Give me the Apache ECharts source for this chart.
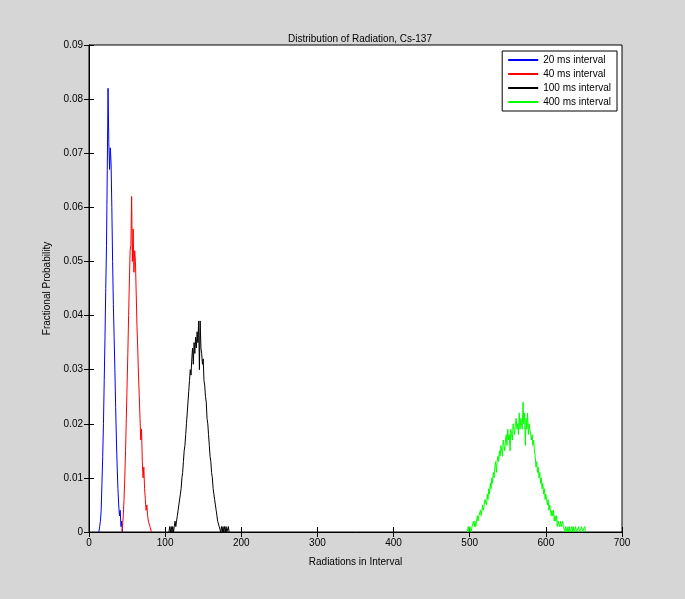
<!DOCTYPE html>
<html><head><meta charset="utf-8">
<script src="https://cdn.jsdelivr.net/npm/echarts@6/dist/echarts.min.js"></script>
<style>html,body{margin:0;padding:0;background:#d6d6d6}#c{width:685px;height:599px}</style>
</head><body><div id="c"></div>
<script>
// counts start at these x values, one value per integer step
const blueStart = 13;
const blue = [0,0.001,0.002,0.004,0.009,0.014,0.02,0.028,0.036,0.045,0.053,0.067,0.082,0.072,0.067,0.071,0.068,0.06,0.05,0.042,0.036,0.03,0.023,0.017,0.012,0.008,0.005,0.003,0.004,0.001,0.002,0];
const redStart = 43;
const red = [0,0.001,0.003,0.006,0.01,0.015,0.021,0.027,0.033,0.04,0.046,0.052,0.053,0.062,0.05,0.056,0.048,0.052,0.05,0.044,0.038,0.034,0.029,0.025,0.021,0.017,0.019,0.013,0.01,0.012,0.008,0.006,0.004,0.005,0.003,0.002,0.002,0.001,0.001,0];
const blackStart = 105;
const black = [0,0.001,0,0.001,0,0.001,0,0.001,0.002,0.001,0.002,0.003,0.004,0.005,0.005,0.007,0.008,0.010,0.011,0.013,0.015,0.016,0.018,0.020,0.022,0.024,0.026,0.028,0.030,0.029,0.032,0.034,0.031,0.035,0.033,0.036,0.034,0.037,0.035,0.039,0.030,0.039,0.034,0.033,0.031,0.032,0.028,0.027,0.025,0.024,0.021,0.020,0.018,0.016,0.014,0.013,0.011,0.010,0.008,0.007,0.006,0.005,0.004,0.003,0.002,0.002,0.001,0.001,0,0.001,0,0.001,0,0.001,0,0.001,0,0,0.001,0];
const greenStart = 497;
const green = [0,0.001,0,0.001,0.001,0,0.001,0.001,0.002,0.001,0.002,0.001,0.002,0.003,0.002,0.003,0.003,0.004,0.003,0.004,0.005,0.004,0.005,0.006,
0.006,0.005,0.007,0.006,0.008,0.007,0.009,0.008,0.010,0.009,0.011,0.010,0.012,0.013,0.011,0.013,0.014,0.013,0.015,0.014,
0.016,0.015,0.014,0.017,0.016,0.015,0.017,0.018,0.016,0.019,0.017,0.018,0.015,0.019,0.018,0.017,0.020,0.019,0.018,0.020,
0.021,0.019,0.020,0.018,0.022,0.019,0.021,0.020,0.019,0.024,0.020,0.022,0.016,0.021,0.019,0.022,0.018,0.020,0.019,0.018,
0.017,0.018,0.016,0.017,0.015,0.014,0.012,0.013,0.011,0.012,0.010,0.011,0.009,0.010,0.008,0.009,0.007,0.008,0.006,0.007,
0.006,0.005,0.006,0.004,0.005,0.004,0.003,0.004,0.003,0.004,0.002,0.003,0.002,0.003,0.001,0.002,0.002,0.001,0.002,0.001,
0.001,0.002,0.001,0.001,0,0.001,0.001,0,0.001,0,0.001,0,0,0.001,0,0.001,0,0,0.001,0,0,0,0.001,0,0,0,0.001,0,0,0,0.001,0];
const names = ['20 ms interval','40 ms interval','100 ms interval','400 ms interval'];
const colors = ['#0000ff','#ff0000','#000000','#00ff00'];

const pairs = (start, arr) => arr.map((v, i) => [start + i, v]);
const sets = [pairs(blueStart, blue), pairs(redStart, red), pairs(blackStart, black), pairs(greenStart, green)];

const font = 'Liberation Sans';
const chart = echarts.init(document.getElementById('c'));
const axisCommon = {
  axisLine: { lineStyle: { color: '#000' } },
  axisTick: { inside: true, length: 5, lineStyle: { color: '#000' } },
  splitLine: { show: false }
};
chart.setOption({
  backgroundColor: '#d6d6d6',
  animation: false,
  textStyle: { fontFamily: font },
  title: { text: 'Distribution of Radiation, Cs-137', left: 355, top: 29, textAlign: 'center',
    textStyle: { fontSize: 10, fontWeight: 'normal', color: '#000', fontFamily: font } },
  grid: { left: 89, right: 63, top: 45, bottom: 67, show: true, backgroundColor: '#fff', borderColor: '#000', borderWidth: 1 },
  legend: {
    right: 68, top: 51, orient: 'vertical', itemWidth: 30, itemHeight: 2, itemGap: 4,
    backgroundColor: '#fff', borderColor: '#000', borderWidth: 1, padding: [4, 6, 4, 6],
    textStyle: { fontSize: 10, color: '#000', fontFamily: font },
    icon: 'rect', data: names
  },
  xAxis: [
    Object.assign({ type: 'value', min: 0, max: 700, interval: 100, position: 'bottom',
      name: 'Radiations in Interval', nameLocation: 'middle', nameGap: 25,
      nameTextStyle: { fontSize: 10, color: '#000' },
      axisLabel: { fontSize: 10, color: '#000', margin: 6 } }, axisCommon),
    Object.assign({ type: 'value', min: 0, max: 700, interval: 100, position: 'top', axisLabel: { show: false } }, axisCommon)
  ],
  yAxis: [
    Object.assign({ type: 'value', min: 0, max: 0.09, interval: 0.01, position: 'left',
      name: 'Fractional Probability', nameLocation: 'middle', nameGap: 33,
      nameTextStyle: { fontSize: 10, color: '#000' },
      axisLabel: { fontSize: 10, color: '#000', margin: 6, formatter: v => v === 0 ? '0' : v.toFixed(2) } }, axisCommon),
    Object.assign({ type: 'value', min: 0, max: 0.09, interval: 0.01, position: 'right', axisLabel: { show: false } }, axisCommon)
  ],
  series: sets.map((d, i) => ({
    name: names[i], type: 'line', data: d, showSymbol: false, symbol: 'none',
    lineStyle: { color: colors[i], width: 1 }, itemStyle: { color: colors[i] }
  }))
});
</script></body></html>
